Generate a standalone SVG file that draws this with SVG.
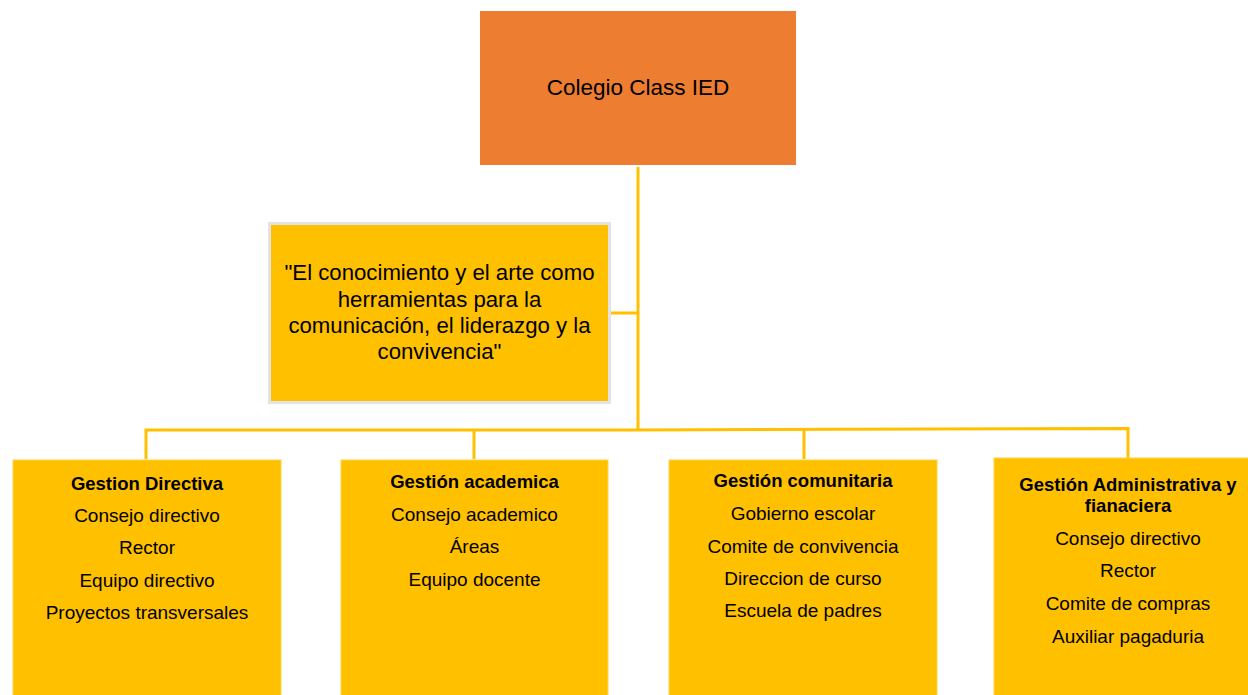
<svg xmlns="http://www.w3.org/2000/svg" width="1248" height="695" viewBox="0 0 1248 695">
<style>
.box{fill:#FFC000;stroke:#FFD24D;stroke-width:1}
.conn{stroke:#FFC000;stroke-width:3;fill:none}
.t{font-family:"Liberation Sans",Arial,sans-serif;fill:#000;text-anchor:middle}
.r{font-size:19px}
.b{font-size:18.5px;font-weight:bold}
.m{font-size:22.2px}
</style>
<rect width="1248" height="695" fill="#fff"/>
<g id="connectors">
<line class="conn" x1="638" y1="167" x2="638" y2="431"/>
<line class="conn" x1="609" y1="313" x2="638" y2="313"/>
<polyline class="conn" points="146,459 146,430 638,430 1128,428.5 1128,458"/>
<line class="conn" x1="474" y1="430" x2="474" y2="459"/>
<line class="conn" x1="804" y1="429" x2="804" y2="459"/>
</g>
<g id="root">
<rect x="480" y="11" width="316" height="154" fill="#ED7D31"/>
<text class="t" x="638" y="95" style="font-size:22.5px">Colegio Class IED</text>
</g>
<g id="motto">
<rect x="269.5" y="223.5" width="340" height="179" fill="#FFC000" stroke="#E3E3E3" stroke-width="3"/>
<text class="t m" x="439.5" y="280">"El conocimiento y el arte como</text>
<text class="t m" x="439.5" y="306.5">herramientas para la</text>
<text class="t m" x="439.5" y="333">comunicación, el liderazgo y la</text>
<text class="t m" x="439.5" y="359">convivencia"</text>
</g>
<g id="gestion-directiva">
<rect class="box" x="13" y="460" width="268" height="240"/>
<text class="t b" x="147" y="490">Gestion Directiva</text>
<text class="t r" x="147" y="522.3">Consejo directivo</text>
<text class="t r" x="147" y="554.3">Rector</text>
<text class="t r" x="147" y="587.3">Equipo directivo</text>
<text class="t r" x="147" y="619.3">Proyectos transversales</text>
</g>
<g id="gestion-academica">
<rect class="box" x="341" y="460" width="267" height="240"/>
<text class="t b" x="474.5" y="488">Gestión academica</text>
<text class="t r" x="474.5" y="521">Consejo academico</text>
<text class="t r" x="474.5" y="553">Áreas</text>
<text class="t r" x="474.5" y="586">Equipo docente</text>
</g>
<g id="gestion-comunitaria">
<rect class="box" x="669" y="460" width="268" height="240"/>
<text class="t b" x="803" y="486.7">Gestión comunitaria</text>
<text class="t r" x="803" y="520">Gobierno escolar</text>
<text class="t r" x="803" y="552.7">Comite de convivencia</text>
<text class="t r" x="803" y="585">Direccion de curso</text>
<text class="t r" x="803" y="617">Escuela de padres</text>
</g>
<g id="gestion-administrativa">
<rect class="box" x="994" y="458" width="260" height="242"/>
<text class="t b" x="1128" y="491">Gestión Administrativa y</text>
<text class="t b" x="1128" y="512.3">fianaciera</text>
<text class="t r" x="1128" y="545">Consejo directivo</text>
<text class="t r" x="1128" y="577.3">Rector</text>
<text class="t r" x="1128" y="610">Comite de compras</text>
<text class="t r" x="1128" y="642.7">Auxiliar pagaduria</text>
</g>
</svg>
